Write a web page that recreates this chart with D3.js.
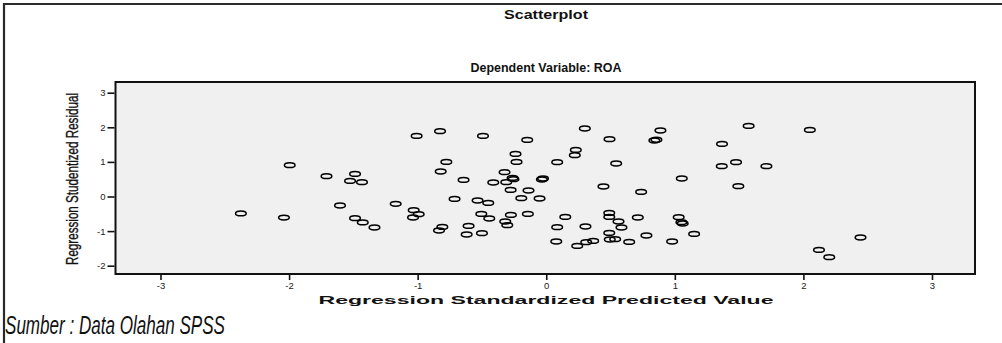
<!DOCTYPE html>
<html>
<head>
<meta charset="utf-8">
<script src="https://cdn.jsdelivr.net/npm/d3@7"></script>
<style>
  html, body { margin: 0; padding: 0; background: #fff; }
  svg { display: block; }
</style>
</head>
<body>
<svg id="chart" width="1002" height="343"></svg>
<script>
// ---- data ----
const predicted = [
  -2.375, -2.04, -1.995, -1.709, -1.604, -1.526, -1.487, -1.487, -1.433, -1.427,
  -1.336, -1.171, -1.036, -1.031, -1.008, -0.992, -0.834, -0.826, -0.821, -0.808,
  -0.777, -0.713, -0.643, -0.619, -0.604, -0.534, -0.505, -0.5, -0.492, -0.451,
  -0.443, -0.412, -0.324, -0.319, -0.311, -0.303, -0.277, -0.275, -0.262, -0.255,
  -0.239, -0.231, -0.194, -0.148, -0.143, -0.138, -0.052, -0.034, -0.025, 0.085,
  0.085, 0.078, 0.148, 0.222, 0.23, 0.241, 0.3, 0.305, 0.311, 0.365,
  0.445, 0.49, 0.49, 0.49, 0.492, 0.494, 0.536, 0.544, 0.562, 0.585,
  0.645, 0.712, 0.738, 0.779, 0.841, 0.857, 0.888, 0.979, 1.03, 1.051,
  1.061, 1.054, 1.15, 1.365, 1.367, 1.476, 1.494, 1.574, 1.712, 2.05,
  2.121, 2.201, 2.444
];
const residual = [
  -0.49, -0.61, 0.905, 0.587, -0.26, 0.451, 0.653, -0.627, 0.413, -0.75,
  -0.896, -0.213, -0.607, -0.396, 1.751, -0.512, -0.983, 1.887, 0.722, -0.878,
  1.0, -0.069, 0.48, -1.098, -0.85, -0.116, -0.503, -1.061, 1.751, -0.185,
  -0.636, 0.405, 0.702, -0.723, 0.413, -0.829, 0.191, -0.532, 0.538, 0.50,
  1.231, 1.0, -0.049, 1.636, -0.503, 0.173, -0.058, 0.491, 0.52, 0.991,
  -0.887, -1.3, -0.59, 1.194, 1.347, -1.428, 1.965, -0.867, -1.321, -1.283,
  0.289, -0.474, -0.59, -1.052, 1.656, -1.243, -1.234, 0.954, -0.723, -0.896,
  -1.312, -0.607, 0.133, -1.127, 1.618, 1.64, 1.907, -1.301, -0.598, -0.743,
  -0.78, 0.52, -1.081, 0.876, 1.52, 0.991, 0.298, 2.04, 0.876, 1.925,
  -1.543, -1.754, -1.185
];
const xTicks = [-3, -2, -1, 0, 1, 2, 3];
const yTicks = [-2, -1, 0, 1, 2, 3];
const chartTitle = "Scatterplot";
const chartSubtitle = "Dependent Variable: ROA";
const xTitle = "Regression Standardized Predicted Value";
const yTitle = "Regression Studentized Residual";
const footer = "Sumber : Data Olahan SPSS";

// ---- layout ----
const svg = d3.select("#chart");
const plot = { left: 115.5, right: 975, top: 82, bottom: 274 };
const x = d3.scaleLinear().domain([-3, 3]).range([160.5, 932]);
const y = d3.scaleLinear().domain([-2, 3]).range([265.7, 92.7]);
const sans = "Liberation Sans, Arial, sans-serif";
const narrow = "Liberation Sans Narrow, Arial Narrow, Liberation Sans, Arial, sans-serif";

// outer frame (top and left edges visible)
svg.append("path")
  .attr("d", "M4,343 L4,4 L1002,4")
  .attr("fill", "none").attr("stroke", "#2a2a2a").attr("stroke-width", 2.2);

// titles
svg.append("text").text(chartTitle)
  .attr("x", 546).attr("y", 19).attr("text-anchor", "middle")
  .attr("font-family", sans)
  .attr("font-weight", "bold").attr("font-size", 12.5).attr("fill", "#111")
  .attr("textLength", 84).attr("lengthAdjust", "spacingAndGlyphs");
svg.append("text").text(chartSubtitle)
  .attr("x", 546).attr("y", 72).attr("text-anchor", "middle")
  .attr("font-family", sans)
  .attr("font-weight", "bold").attr("font-size", 13.5).attr("fill", "#111")
  .attr("textLength", 151).attr("lengthAdjust", "spacingAndGlyphs");

// plot background
svg.append("rect")
  .attr("x", plot.left).attr("y", plot.top)
  .attr("width", plot.right - plot.left).attr("height", plot.bottom - plot.top)
  .attr("fill", "#f0f0f0").attr("stroke", "#111").attr("stroke-width", 2);

// axes
const fmt = d => String(d);
const gx = svg.append("g").attr("transform", `translate(0,${plot.bottom + 1})`)
  .call(d3.axisBottom(x).tickValues(xTicks).tickFormat(fmt).tickSize(5).tickPadding(2));
const gy = svg.append("g").attr("transform", `translate(${plot.left - 1},0)`)
  .call(d3.axisLeft(y).tickValues(yTicks).tickFormat(fmt).tickSize(7).tickPadding(2));
[gx, gy].forEach(g => {
  g.select(".domain").remove();
  g.selectAll(".tick line").attr("stroke", "#111").attr("stroke-width", 1.6);
  g.selectAll(".tick text")
    .attr("font-family", sans)
    .attr("font-size", 9.5).attr("fill", "#222");
});

// points
svg.append("g").selectAll("ellipse")
  .data(predicted.map((p, i) => [p, residual[i]]))
  .join("ellipse")
  .attr("cx", d => x(d[0])).attr("cy", d => y(d[1]))
  .attr("rx", 5.3).attr("ry", 2.4)
  .attr("fill", "none").attr("stroke", "#000").attr("stroke-width", 1.5);

// axis titles
svg.append("text").text(xTitle)
  .attr("x", 546).attr("y", 304).attr("text-anchor", "middle")
  .attr("font-family", sans)
  .attr("font-weight", "bold").attr("font-size", 11.5).attr("fill", "#111")
  .attr("textLength", 455).attr("lengthAdjust", "spacingAndGlyphs");
svg.append("text").text(yTitle)
  .attr("transform", "translate(78,179) rotate(-90)")
  .attr("text-anchor", "middle")
  .attr("font-family", sans)
  .attr("font-size", 17).attr("fill", "#111")
  .attr("stroke", "#111").attr("stroke-width", 0.35)
  .attr("textLength", 172).attr("lengthAdjust", "spacingAndGlyphs");

// footer
svg.append("text").text(footer)
  .attr("x", 5).attr("y", 334)
  .attr("font-family", narrow)
  .attr("font-style", "italic").attr("font-size", 26).attr("fill", "#111")
  .attr("textLength", 220).attr("lengthAdjust", "spacingAndGlyphs");
</script>
</body>
</html>
